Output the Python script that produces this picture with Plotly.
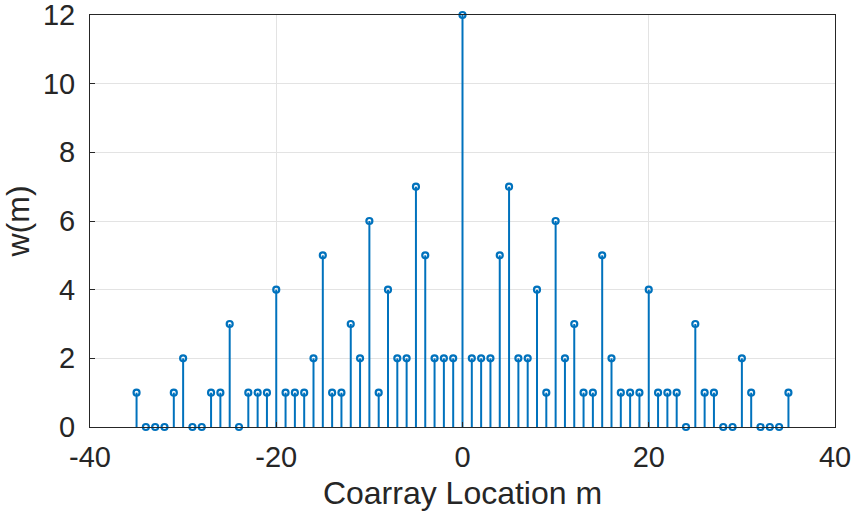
import plotly.graph_objects as go

locations = list(range(-35, 36))
left_half = [1, 0, 0, 0, 1, 2, 0, 0, 1, 1, 3, 0, 1, 1, 1, 4, 1, 1, 1, 2, 5, 1, 1, 3, 2, 6, 1, 4, 2, 2, 7, 5, 2, 2, 2]
center = [12]
weights = left_half + center + left_half[::-1]

x_ticks = [-40, -20, 0, 20, 40]
x_tick_text = ["-40", "-20", "0", "20", "40"]
y_ticks = [0, 2, 4, 6, 8, 10, 12]

color = "#0072BD"
stem_x, stem_y = [], []
for m, w in zip(locations, weights):
    stem_x += [m, m, None]
    stem_y += [0, w, None]

fig = go.Figure()
fig.add_trace(go.Scatter(x=stem_x, y=stem_y, mode="lines",
                         line=dict(color=color, width=2), hoverinfo="skip", showlegend=False))
fig.add_trace(go.Scatter(x=locations, y=weights, mode="markers",
                         marker=dict(symbol="circle-open", size=6, color=color, line=dict(width=2.2)),
                         showlegend=False, cliponaxis=False))

font = "Liberation Sans, Arial"
axis_common = dict(showline=True, linecolor="#262626", linewidth=1, mirror=True,
                   showgrid=True, gridcolor="#e3e3e3", gridwidth=1, zeroline=False,
                   ticks="inside", ticklen=5, tickcolor="#262626", automargin=False,
                   ticklabeloverflow="allow",
                   tickfont=dict(family=font, size=29, color="#262626"))

fig.update_layout(
    width=861, height=516,
    margin=dict(l=90, r=26, t=15, b=89),
    paper_bgcolor="white", plot_bgcolor="white",
    xaxis=dict(range=[-40, 40], tickvals=x_ticks, ticktext=x_tick_text, ticklabelstandoff=4,
               title=dict(text="Coarray Location m", standoff=9,
                          font=dict(family=font, size=32, color="#262626")),
               **axis_common),
    yaxis=dict(range=[0, 12], tickvals=y_ticks, ticklabelstandoff=8,
               title=dict(text="w(m)", standoff=4,
                          font=dict(family=font, size=32, color="#262626")),
               **axis_common),
)

fig.write_html("out.html")
